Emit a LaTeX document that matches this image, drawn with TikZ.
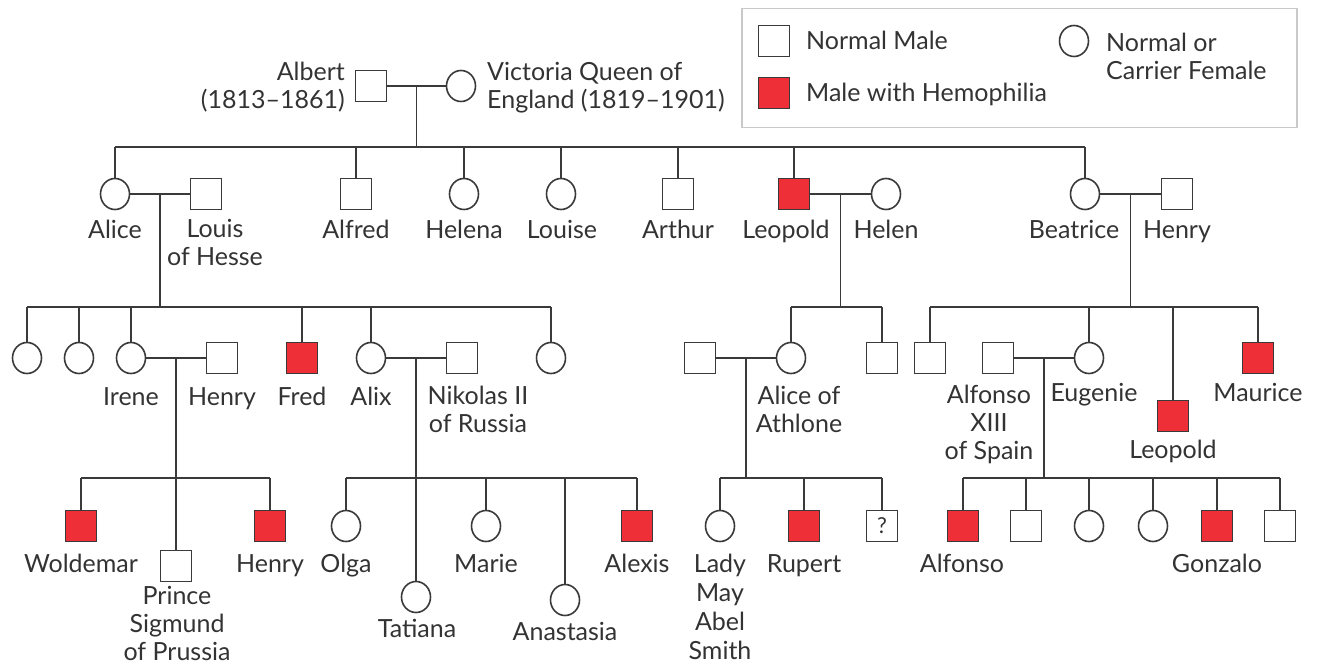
\documentclass[tikz,border=0pt]{standalone}
\usepackage{fontspec}
\setmainfont{Lato}
\usepackage{xcolor}
\usepackage{tikz}
\usetikzlibrary{shapes.geometric}

\definecolor{linegray}{HTML}{3A3A3A}
\definecolor{textgray}{HTML}{333333}
\definecolor{hemored}{HTML}{EE2F38}
\definecolor{boxgray}{HTML}{C9C9C9}

\tikzset{
    male/.style={draw=linegray, line width=1.6pt, fill=white, minimum size=31pt, inner sep=0pt},
    hemo/.style={male, fill=hemored},
    female/.style={ellipse, draw=linegray, line width=1.6pt, fill=white, minimum width=29pt, minimum height=31pt, inner sep=0pt},
    tag/.style={text=textgray, font=\fontsize{25}{28}\selectfont, align=center, anchor=base, inner sep=0pt},
    tie/.style={draw=linegray, line width=1.6pt},
}

\begin{document}
\begin{tikzpicture}[x=1pt, y=-1pt]
        \useasboundingbox (0,0) rectangle (1322,663);

        % key
        \node[draw=boxgray, line width=1.5pt, minimum width=555pt, minimum height=119pt, anchor=north west] (key) at (741,8) {};
        \node[male] (keymale) at (774,41) {};
        \node[hemo] (keyhemo) at (774,93) {};
        \node[female] (keyfemale) at (1074,41) {};
        \node[tag, anchor=base west, align=left] (keymale-t) at (806,50) {Normal Male};
        \node[tag, anchor=base west, align=left] (keyhemo-t) at (806,102) {Male with Hemophilia};
        \node[tag, anchor=base west, align=left] (keyfemale-t) at (1106,80) {Normal or\\Carrier Female};

        % rows of the sibling bars
        \coordinate (r1) at (0,147);
        \coordinate (r2) at (0,307);
        \coordinate (r3) at (0,478);

        \node[male] (albert) at (371,86) {};
        \node[female] (victoria) at (461,86) {};
        \node[tag, anchor=base east, align=right] (albert-t) at (345,109) {Albert\\(1813--1861)};
        \node[tag, anchor=base west, align=left] (victoria-t) at (487,109) {Victoria Queen of\\England (1819--1901)};
        \draw[tie] (albert) -- coordinate (m1) (victoria);

        \node[female] (alice) at (115,194) {};
        \node[male] (louis) at (206,194) {};
        \node[male] (alfred) at (356,194) {};
        \node[female] (helena) at (464,194) {};
        \node[female] (louise) at (561,194) {};
        \node[male] (arthur) at (678,194) {};
        \node[hemo] (leopold) at (794,194) {};
        \node[female] (helen) at (886,194) {};
        \node[female] (beatrice) at (1085,194) {};
        \node[male] (henryb) at (1177,194) {};
        \node[tag] (alice-t) at (115,238) {Alice};
        \node[tag] (louis-t) at (215,265) {Louis\\of Hesse};
        \node[tag] (alfred-t) at (356,238) {Alfred};
        \node[tag] (helena-t) at (464,238) {Helena};
        \node[tag] (louise-t) at (562,238) {Louise};
        \node[tag] (arthur-t) at (678,238) {Arthur};
        \node[tag] (leopold-t) at (786,238) {Leopold};
        \node[tag] (helen-t) at (886,238) {Helen};
        \node[tag] (beatrice-t) at (1074,238) {Beatrice};
        \node[tag] (henryb-t) at (1177,238) {Henry};

        \draw[tie] (m1) -- (m1 |- r1);
        \draw[tie] (alice.north |- r1) -- (beatrice.north |- r1);
        \foreach \kid in {alice,alfred,helena,louise,arthur,leopold,beatrice}
            \draw[tie] (\kid.north) -- (\kid.north |- r1);
        \draw[tie] (alice) -- coordinate (m2) (louis);
        \draw[tie] (leopold) -- coordinate (m3) (helen);
        \draw[tie] (beatrice) -- coordinate (m4) (henryb);

        \node[female] (hesse1) at (27,358) {};
        \node[female] (hesse2) at (79,358) {};
        \node[female] (irene) at (131,358) {};
        \node[male] (henryp) at (222,358) {};
        \node[hemo] (fred) at (302,358) {};
        \node[female] (alix) at (371,358) {};
        \node[male] (nikolas) at (462,358) {};
        \node[female] (hesse8) at (551,358) {};
        \node[male] (athspouse) at (700,358) {};
        \node[female] (aliceath) at (791,358) {};
        \node[male] (albany2) at (882,358) {};
        \node[male] (batt1) at (930,358) {};
        \node[male] (alfonsoxiii) at (998,358) {};
        \node[female] (eugenie) at (1089,358) {};
        \node[hemo] (leopoldb) at (1173,416) {};
        \node[hemo] (maurice) at (1258,358) {};
        \node[tag] (irene-t) at (131,405) {Irene};
        \node[tag] (henryp-t) at (222,405) {Henry};
        \node[tag] (fred-t) at (302,405) {Fred};
        \node[tag] (alix-t) at (371,405) {Alix};
        \node[tag] (nikolas-t) at (478,432) {Nikolas II\\of Russia};
        \node[tag] (aliceath-t) at (799,432) {Alice of\\Athlone};
        \node[tag] (alfonsoxiii-t) at (989,459) {Alfonso\\XIII\\of Spain};
        \node[tag] (eugenie-t) at (1094,401) {Eugenie};
        \node[tag] (leopoldb-t) at (1173,458) {Leopold};
        \node[tag] (maurice-t) at (1258,401) {Maurice};

        \draw[tie] (m2) -- (m2 |- r2);
        \draw[tie] (hesse1.north |- r2) -- (hesse8.north |- r2);
        \foreach \kid in {hesse1,hesse2,irene,fred,alix,hesse8}
            \draw[tie] (\kid.north) -- (\kid.north |- r2);
        \draw[tie] (m3) -- (m3 |- r2);
        \draw[tie] (aliceath.north |- r2) -- (albany2.north |- r2);
        \foreach \kid in {aliceath,albany2}
            \draw[tie] (\kid.north) -- (\kid.north |- r2);
        \draw[tie] (m4) -- (m4 |- r2);
        \draw[tie] (batt1.north |- r2) -- (maurice.north |- r2);
        \foreach \kid in {batt1,eugenie,leopoldb,maurice}
            \draw[tie] (\kid.north) -- (\kid.north |- r2);
        \draw[tie] (irene) -- coordinate (m5) (henryp);
        \draw[tie] (alix) -- coordinate (m6) (nikolas);
        \draw[tie] (athspouse) -- coordinate (m7) (aliceath);
        \draw[tie] (alfonsoxiii) -- coordinate (m8) (eugenie);

        \node[hemo] (woldemar) at (81,526) {};
        \node[male] (sigmund) at (m5 |- 0,566) {};
        \node[hemo] (henryr) at (270,526) {};
        \node[female] (olga) at (346,526) {};
        \node[female] (tatiana) at (m6 |- 0,597) {};
        \node[female] (marie) at (486,526) {};
        \node[female] (anastasia) at (565,600) {};
        \node[hemo] (alexis) at (637,526) {};
        \node[female] (lady) at (720,526) {};
        \node[hemo] (rupert) at (804,526) {};
        \node[male, font=\fontsize{22}{24}\selectfont, text=textgray] (unknown) at (882,526) {?};
        \node[hemo] (alfonso) at (963,526) {};
        \node[male] (spain2) at (1026,526) {};
        \node[female] (spain3) at (1089,526) {};
        \node[female] (spain4) at (1153,526) {};
        \node[hemo] (gonzalo) at (1217,526) {};
        \node[male] (spain6) at (1280,526) {};
        \node[tag] (woldemar-t) at (81,572) {Woldemar};
        \node[tag] (sigmund-t) at (177,660) {Prince\\Sigmund\\of Prussia};
        \node[tag] (henryr-t) at (270,572) {Henry};
        \node[tag] (olga-t) at (346,572) {Olga};
        \node[tag] (tatiana-t) at (417,637) {Tatiana};
        \node[tag] (marie-t) at (486,572) {Marie};
        \node[tag] (anastasia-t) at (565,640) {Anastasia};
        \node[tag] (alexis-t) at (637,572) {Alexis};
        \node[tag, font=\fontsize{25}{29}\selectfont] (lady-t) at (720,659) {Lady\\May\\Abel\\Smith};
        \node[tag] (rupert-t) at (804,572) {Rupert};
        \node[tag] (alfonso-t) at (962,572) {Alfonso};
        \node[tag] (gonzalo-t) at (1217,572) {Gonzalo};

        \draw[tie] (m5) -- (sigmund.north);
        \draw[tie] (woldemar.north |- r3) -- (henryr.north |- r3);
        \foreach \kid in {woldemar,henryr}
            \draw[tie] (\kid.north) -- (\kid.north |- r3);
        \draw[tie] (m6) -- (tatiana.north);
        \draw[tie] (olga.north |- r3) -- (alexis.north |- r3);
        \foreach \kid in {olga,marie,anastasia,alexis}
            \draw[tie] (\kid.north) -- (\kid.north |- r3);
        \draw[tie] (m7) -- (m7 |- r3);
        \draw[tie] (lady.north |- r3) -- (unknown.north |- r3);
        \foreach \kid in {lady,rupert,unknown}
            \draw[tie] (\kid.north) -- (\kid.north |- r3);
        \draw[tie] (m8) -- (m8 |- r3);
        \draw[tie] (alfonso.north |- r3) -- (spain6.north |- r3);
        \foreach \kid in {alfonso,spain2,spain3,spain4,gonzalo,spain6}
            \draw[tie] (\kid.north) -- (\kid.north |- r3);
\end{tikzpicture}
\end{document}
